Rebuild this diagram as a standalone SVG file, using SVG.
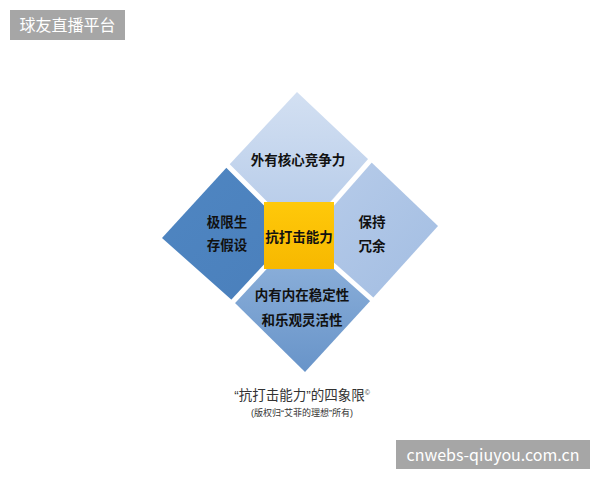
<svg xmlns="http://www.w3.org/2000/svg" width="600" height="480" viewBox="0 0 600 480">
<defs>
<linearGradient id="gTop" x1="0" y1="0" x2="0" y2="1"><stop offset="0" stop-color="#d3e0f2"/><stop offset="1" stop-color="#b3c9e8"/></linearGradient>
<linearGradient id="gLeft" x1="0" y1="0" x2="1" y2="1"><stop offset="0" stop-color="#4f86c2"/><stop offset="1" stop-color="#4a7fbb"/></linearGradient>
<linearGradient id="gRight" x1="0" y1="0" x2="1" y2="1"><stop offset="0" stop-color="#b9cdea"/><stop offset="1" stop-color="#a2bde2"/></linearGradient>
<linearGradient id="gBottom" x1="0" y1="0" x2="0" y2="1"><stop offset="0" stop-color="#93b5dd"/><stop offset="1" stop-color="#6894c9"/></linearGradient>
<linearGradient id="gCenter" x1="0" y1="0" x2="0" y2="1"><stop offset="0" stop-color="#ffc90a"/><stop offset="1" stop-color="#f7b800"/></linearGradient>
</defs>
<style>
.lbl{font-family:"Noto Sans CJK SC","Liberation Sans",sans-serif;font-size:13.5px;font-weight:bold;fill:#111;text-anchor:middle}
.cap{font-family:"Liberation Sans","Noto Sans CJK SC",sans-serif;fill:#333;text-anchor:middle}
.badge{fill:#a6a6a6}
.btxt{font-family:"Noto Sans CJK SC","Liberation Sans",sans-serif;fill:#fff;text-anchor:middle}
.gap{stroke:#fff;stroke-width:5;stroke-linecap:butt}
</style>
<rect width="600" height="480" fill="#fff"/>
<g id="badge-top">
<rect class="badge" x="10" y="10" width="115" height="30"/>
<text class="btxt" x="67.5" y="31" font-size="16">球友直播平台</text>
</g>
<g id="node-top">
<polygon points="297,92 369,160 300,234 228,166" fill="url(#gTop)"/>
<text class="lbl" x="298" y="165">外有核心竞争力</text>
</g>
<g id="node-right">
<polygon points="369,160 438,226 372,299 300,234" fill="url(#gRight)"/>
<text class="lbl" x="372" y="227">保持</text>
<text class="lbl" x="372" y="251">冗余</text>
</g>
<g id="node-bottom">
<polygon points="372,299 305,372 234,302 300,234" fill="url(#gBottom)"/>
<text class="lbl" x="302" y="300">内有内在稳定性</text>
<text class="lbl" x="302" y="325">和乐观灵活性</text>
</g>
<g id="node-left">
<polygon points="234,302 162,238 228,166 300,234" fill="url(#gLeft)"/>
<text class="lbl" x="227" y="227">极限生</text>
<text class="lbl" x="227" y="250">存假设</text>
</g>
<g id="connectors">
<line class="gap" x1="266" y1="204" x2="222" y2="160"/>
<line class="gap" x1="332" y1="204" x2="375" y2="155"/>
<line class="gap" x1="266" y1="266" x2="228" y2="307"/>
<line class="gap" x1="332" y1="264" x2="377" y2="304"/>
</g>
<g id="node-center">
<rect x="264" y="202" width="70" height="67" fill="url(#gCenter)"/>
<text class="lbl" x="299" y="242">抗打击能力</text>
</g>
<g id="caption">
<text class="cap" x="302" y="400" font-size="13.5">“抗打击能力”的四象限<tspan font-size="7" dy="-5">©</tspan></text>
<text class="cap" x="302" y="416" font-size="9" fill="#444">(版权归“艾菲的理想”所有)</text>
</g>
<g id="badge-bottom">
<rect class="badge" x="396" y="440" width="194" height="29"/>
<text class="btxt" x="493" y="461" font-size="16" font-family="Liberation Sans, sans-serif">cnwebs-qiuyou.com.cn</text>
</g>
</svg>
